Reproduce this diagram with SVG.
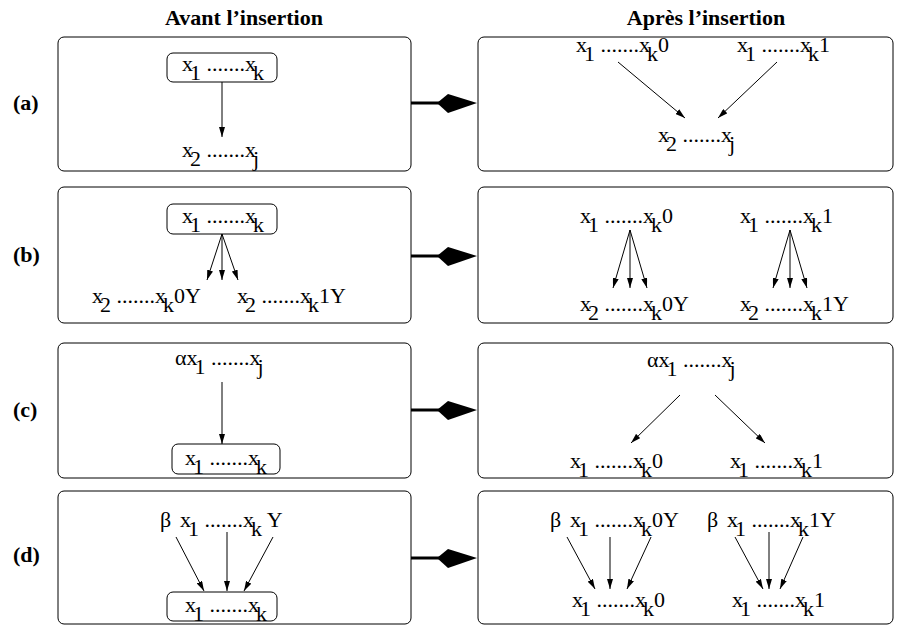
<svg xmlns="http://www.w3.org/2000/svg" width="907" height="626" viewBox="0 0 907 626">
<style>
.t{font-family:"Liberation Serif","Times New Roman",serif;font-size:22px;fill:#000}
.h{font-family:"Liberation Serif","Times New Roman",serif;font-size:22px;font-weight:bold;fill:#000}
.panel{fill:#fff;stroke:#000;stroke-width:1}
.nb{fill:none;stroke:#000;stroke-width:1}
.e{stroke:#000;stroke-width:1;fill:none;marker-end:url(#ah)}
.big{stroke:#000;stroke-width:3}
.dia{fill:#000}
</style>
<defs>
<marker id="ah" viewBox="0 0 10 6" refX="10" refY="3" markerWidth="10" markerHeight="6" markerUnits="userSpaceOnUse" orient="auto">
<path d="M0,0 L10,3 L0,6 z" fill="#000"/>
</marker>
</defs>
<rect width="907" height="626" fill="#fff"/>
<g id="headers">
<text class="h" x="244" y="25" text-anchor="middle">Avant l’insertion</text>
<text class="h" x="706" y="25" text-anchor="middle">Après l’insertion</text>
</g>
<g id="labels">
<text class="h" x="13" y="110">(a)</text>
<text class="h" x="13" y="262">(b)</text>
<text class="h" x="13" y="417">(c)</text>
<text class="h" x="13" y="562">(d)</text>
</g>
<g id="panels">
<rect id="pa-left" class="panel" x="58" y="37" width="353" height="134" rx="6"/>
<rect id="pa-right" class="panel" x="478" y="37" width="415" height="134" rx="6"/>
<rect id="pb-left" class="panel" x="58" y="187" width="353" height="136" rx="6"/>
<rect id="pb-right" class="panel" x="478" y="187" width="415" height="136" rx="6"/>
<rect id="pc-left" class="panel" x="58" y="343" width="353" height="135" rx="6"/>
<rect id="pc-right" class="panel" x="478" y="343" width="415" height="135" rx="6"/>
<rect id="pd-left" class="panel" x="58" y="491" width="353" height="133" rx="6"/>
<rect id="pd-right" class="panel" x="478" y="491" width="415" height="133" rx="6"/>
</g>
<!-- row a -->
<g id="a-l-top"><rect class="nb" x="167" y="53" width="110" height="29" rx="6"/><text class="t" x="182" y="71">x<tspan dx="-3" dy="9">1</tspan><tspan dy="-9"> .......x</tspan><tspan dx="-3" dy="9">k</tspan></text></g>
<g id="a-l-bot"><text class="t" x="182" y="157">x<tspan dx="-3" dy="9">2</tspan><tspan dy="-9"> .......x</tspan><tspan dx="-3" dy="9">j</tspan></text></g>
<g id="a-r-top0"><text class="t" x="576" y="52">x<tspan dx="-3" dy="9">1</tspan><tspan dy="-9"> .......x</tspan><tspan dx="-3" dy="9">k</tspan><tspan dy="-9">0</tspan></text></g>
<g id="a-r-top1"><text class="t" x="737" y="52">x<tspan dx="-3" dy="9">1</tspan><tspan dy="-9"> .......x</tspan><tspan dx="-3" dy="9">k</tspan><tspan dy="-9">1</tspan></text></g>
<g id="a-r-bot"><text class="t" x="658" y="142">x<tspan dx="-3" dy="9">2</tspan><tspan dy="-9"> .......x</tspan><tspan dx="-3" dy="9">j</tspan></text></g>
<!-- row b -->
<g id="b-l-top"><rect class="nb" x="167" y="204" width="110" height="30" rx="6"/><text class="t" x="182" y="223">x<tspan dx="-3" dy="9">1</tspan><tspan dy="-9"> .......x</tspan><tspan dx="-3" dy="9">k</tspan></text></g>
<g id="b-l-bot0"><text class="t" x="92" y="303">x<tspan dx="-3" dy="9">2</tspan><tspan dy="-9"> .......x</tspan><tspan dx="-3" dy="9">k</tspan><tspan dy="-9">0Y</tspan></text></g>
<g id="b-l-bot1"><text class="t" x="237" y="303">x<tspan dx="-3" dy="9">2</tspan><tspan dy="-9"> .......x</tspan><tspan dx="-3" dy="9">k</tspan><tspan dy="-9">1Y</tspan></text></g>
<g id="b-r-top0"><text class="t" x="580" y="223">x<tspan dx="-3" dy="9">1</tspan><tspan dy="-9"> .......x</tspan><tspan dx="-3" dy="9">k</tspan><tspan dy="-9">0</tspan></text></g>
<g id="b-r-top1"><text class="t" x="740" y="223">x<tspan dx="-3" dy="9">1</tspan><tspan dy="-9"> .......x</tspan><tspan dx="-3" dy="9">k</tspan><tspan dy="-9">1</tspan></text></g>
<g id="b-r-bot0"><text class="t" x="580" y="311">x<tspan dx="-3" dy="9">2</tspan><tspan dy="-9"> .......x</tspan><tspan dx="-3" dy="9">k</tspan><tspan dy="-9">0Y</tspan></text></g>
<g id="b-r-bot1"><text class="t" x="740" y="311">x<tspan dx="-3" dy="9">2</tspan><tspan dy="-9"> .......x</tspan><tspan dx="-3" dy="9">k</tspan><tspan dy="-9">1Y</tspan></text></g>
<!-- row c -->
<g id="c-l-top"><text class="t" x="175" y="365">αx<tspan dx="-3" dy="9">1</tspan><tspan dy="-9"> .......x</tspan><tspan dx="-3" dy="9">j</tspan></text></g>
<g id="c-l-bot"><rect class="nb" x="172" y="444" width="108" height="30" rx="6"/><text class="t" x="185" y="465">x<tspan dx="-3" dy="9">1</tspan><tspan dy="-9"> .......x</tspan><tspan dx="-3" dy="9">k</tspan></text></g>
<g id="c-r-top"><text class="t" x="647" y="367">αx<tspan dx="-3" dy="9">1</tspan><tspan dy="-9"> .......x</tspan><tspan dx="-3" dy="9">j</tspan></text></g>
<g id="c-r-bot0"><text class="t" x="570" y="468">x<tspan dx="-3" dy="9">1</tspan><tspan dy="-9"> .......x</tspan><tspan dx="-3" dy="9">k</tspan><tspan dy="-9">0</tspan></text></g>
<g id="c-r-bot1"><text class="t" x="730" y="468">x<tspan dx="-3" dy="9">1</tspan><tspan dy="-9"> .......x</tspan><tspan dx="-3" dy="9">k</tspan><tspan dy="-9">1</tspan></text></g>
<!-- row d -->
<g id="d-l-top"><text class="t" x="160" y="527">β<tspan x="180">x</tspan><tspan dx="-3" dy="9">1</tspan><tspan dy="-9"> .......x</tspan><tspan dx="-3" dy="9">k</tspan><tspan dy="-9"> Y</tspan></text></g>
<g id="d-l-bot"><rect class="nb" x="167" y="592" width="110" height="29" rx="6"/><text class="t" x="185" y="612">x<tspan dx="-3" dy="9">1</tspan><tspan dy="-9"> .......x</tspan><tspan dx="-3" dy="9">k</tspan></text></g>
<g id="d-r-top0"><text class="t" x="550" y="527">β<tspan x="570">x</tspan><tspan dx="-3" dy="9">1</tspan><tspan dy="-9"> .......x</tspan><tspan dx="-3" dy="9">k</tspan><tspan dy="-9">0Y</tspan></text></g>
<g id="d-r-top1"><text class="t" x="707" y="527">β<tspan x="727">x</tspan><tspan dx="-3" dy="9">1</tspan><tspan dy="-9"> .......x</tspan><tspan dx="-3" dy="9">k</tspan><tspan dy="-9">1Y</tspan></text></g>
<g id="d-r-bot0"><text class="t" x="572" y="607">x<tspan dx="-3" dy="9">1</tspan><tspan dy="-9"> .......x</tspan><tspan dx="-3" dy="9">k</tspan><tspan dy="-9">0</tspan></text></g>
<g id="d-r-bot1"><text class="t" x="732" y="607">x<tspan dx="-3" dy="9">1</tspan><tspan dy="-9"> .......x</tspan><tspan dx="-3" dy="9">k</tspan><tspan dy="-9">1</tspan></text></g>
<g id="connectors">
<line class="e" x1="222" y1="82" x2="222" y2="137"/>
<line class="e" x1="618" y1="62" x2="685" y2="118"/>
<line class="e" x1="777" y1="62" x2="718" y2="118"/>
<line class="e" x1="222" y1="234" x2="207" y2="280"/>
<line class="e" x1="222" y1="234" x2="222" y2="280"/>
<line class="e" x1="222" y1="234" x2="238" y2="280"/>
<line class="e" x1="630" y1="230" x2="613" y2="288"/>
<line class="e" x1="630" y1="230" x2="630" y2="288"/>
<line class="e" x1="630" y1="230" x2="647" y2="288"/>
<line class="e" x1="790" y1="230" x2="773" y2="288"/>
<line class="e" x1="790" y1="230" x2="790" y2="288"/>
<line class="e" x1="790" y1="230" x2="807" y2="288"/>
<line class="e" x1="222" y1="382" x2="222" y2="444"/>
<line class="e" x1="680" y1="395" x2="631" y2="443"/>
<line class="e" x1="715" y1="395" x2="765" y2="443"/>
<line class="e" x1="176" y1="537" x2="204" y2="591"/>
<line class="e" x1="227" y1="532" x2="227" y2="591"/>
<line class="e" x1="273" y1="537" x2="244" y2="591"/>
<line class="e" x1="567" y1="537" x2="595" y2="589"/>
<line class="e" x1="610" y1="537" x2="610" y2="589"/>
<line class="e" x1="651" y1="537" x2="627" y2="589"/>
<line class="e" x1="735" y1="537" x2="763" y2="589"/>
<line class="e" x1="769" y1="532" x2="769" y2="589"/>
<line class="e" x1="803" y1="537" x2="780" y2="589"/>
<g id="transitions">
<line class="big" x1="411" y1="103" x2="440" y2="103"/><polygon class="dia" points="437,103 448,94 477,103 448,113"/>
<line class="big" x1="411" y1="256" x2="440" y2="256"/><polygon class="dia" points="437,256 448,247 477,256 448,266"/>
<line class="big" x1="411" y1="410" x2="440" y2="410"/><polygon class="dia" points="437,410 448,401 477,410 448,420"/>
<line class="big" x1="411" y1="558" x2="440" y2="558"/><polygon class="dia" points="437,558 448,549 477,558 448,568"/>
</g>
</g>
</svg>
